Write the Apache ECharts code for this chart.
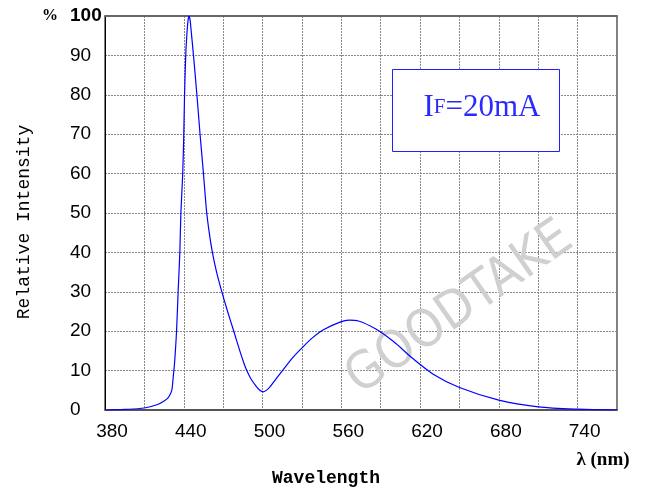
<!DOCTYPE html>
<html>
<head>
<meta charset="utf-8">
<script src="https://cdn.jsdelivr.net/npm/echarts@6/dist/echarts.min.js"></script>
<style>
  html, body { margin: 0; padding: 0; background: #fff; }
  #chart { width: 645px; height: 493px; }
</style>
</head>
<body>
<div id="chart"></div>
<script>
// wavelength (nm) and relative intensity (%)
const wavelengths = [380, 395, 410, 420, 425, 428, 430, 431, 432, 433, 434.5, 435.7, 437, 437.8, 439.2, 440, 440.6, 441.5, 442.5, 443.3, 444, 444.8, 445.7, 447.4, 450, 452.4, 455, 456.2, 457.5, 459.4, 461.8, 465, 469, 473.4, 478.1, 482.7, 485.7, 488, 491, 495.2, 497.9, 500.5, 505, 510, 515.6, 523, 531, 538, 546, 559, 566, 573, 586, 600, 614, 630, 650, 680, 710, 740, 770];
const intensity = [0, 0.15, 0.5, 1.4, 2.3, 3.1, 4.2, 5.2, 8.5, 12, 20, 30, 40, 50, 60, 70, 80, 90, 96, 99, 100, 99, 96, 90, 80, 70, 60, 55, 50, 45, 40, 35, 30, 25, 20, 15, 12, 10, 8, 6, 5, 4.6, 5.6, 7.8, 10.2, 13.3, 16.1, 18.3, 20.3, 22.3, 22.8, 22.6, 20.6, 17.3, 13.2, 9.1, 5.7, 2.5, 0.8, 0.2, 0];
const xTickLabels = [380, 440, 500, 560, 620, 680, 740];

const chart = echarts.init(document.getElementById('chart'));

const option = {
  backgroundColor: '#fff',
  animation: false,
  grid: {
    left: 105,
    top: 16,
    width: 512,
    height: 394,
    show: true,
    borderColor: '#000',
    borderWidth: 1
  },
  xAxis: [{
    type: 'value',
    min: 380,
    max: 770,
    interval: 30,
    axisLine: { show: true, lineStyle: { color: '#555', width: 2 } },
    axisTick: { show: false },
    axisLabel: {
      color: '#000',
      fontFamily: 'Liberation Sans',
      fontSize: 19,
      margin: 12,
      padding: [0, 0, 0, 14],
      formatter: (v) => (xTickLabels.indexOf(v) >= 0 ? String(v) : '')
    },
    splitLine: { show: true, lineStyle: { color: '#888', type: [2, 1], width: 1 } }
  }, {
    type: 'value',
    position: 'top',
    min: 380,
    max: 770,
    axisLine: { show: true, onZero: false, lineStyle: { color: '#666', width: 2 } },
    axisTick: { show: false },
    axisLabel: { show: false },
    splitLine: { show: false }
  }],
  yAxis: {
    type: 'value',
    min: 0,
    max: 100,
    interval: 10,
    axisLine: { show: true, lineStyle: { color: '#000', width: 1 } },
    axisTick: { show: false },
    axisLabel: {
      color: '#000',
      fontFamily: 'Liberation Sans',
      fontSize: 19,
      align: 'left',
      margin: 35,
      formatter: (v) => (v === 100 ? '{b|100}' : String(v)),
      rich: {
        b: { fontFamily: 'Liberation Sans', fontWeight: 'bold', fontSize: 19, color: '#000' }
      }
    },
    splitLine: { show: true, lineStyle: { color: '#888', type: [2, 1], width: 1 } }
  },
  series: [{
    type: 'line',
    data: wavelengths.map((w, i) => [w, intensity[i]]),
    showSymbol: false,
    smooth: 0.3,
    lineStyle: { color: '#0000ff', width: 1.2 },
    z: 5
  }],
  graphic: [
    {
      type: 'text',
      left: 42,
      top: 8,
      style: { text: '%', font: 'bold 16px "Liberation Serif"', fill: '#000' }
    },
    {
      type: 'text',
      x: 24,
      y: 222,
      rotation: Math.PI / 2,
      style: {
        text: 'Relative Intensity',
        font: '18px "Liberation Mono"',
        fill: '#000',
        align: 'center',
        verticalAlign: 'middle'
      }
    },
    {
      type: 'text',
      x: 326,
      y: 478,
      style: {
        text: 'Wavelength',
        font: 'bold 18px "Liberation Mono"',
        fill: '#000',
        align: 'center',
        verticalAlign: 'middle'
      }
    },
    {
      type: 'text',
      x: 603,
      y: 460,
      style: {
        text: 'λ (nm)',
        font: 'bold 19px "Liberation Serif"',
        fill: '#000',
        align: 'center',
        verticalAlign: 'middle'
      }
    },
    {
      type: 'text',
      x: 460,
      y: 309,
      rotation: 0.61,
      z: 1,
      style: {
        text: 'GOODTAKE',
        font: '52px "Liberation Sans Narrow", "DejaVu Sans Condensed", sans-serif',
        fill: '#d0d0d0',
        align: 'center',
        verticalAlign: 'middle'
      }
    },
    {
      type: 'rect',
      shape: { x: 392.5, y: 69.5, width: 167, height: 82 },
      style: { fill: '#fff', stroke: '#1f1fff', lineWidth: 1 },
      z: 10
    },
    {
      type: 'text',
      x: 482,
      y: 123,
      z: 11,
      style: {
        rich: {
          big: { fontFamily: 'Liberation Serif', fontSize: 31, fill: '#2a2aff' },
          sm: { fontFamily: 'Liberation Serif', fontSize: 21, fill: '#2a2aff' }
        },
        text: '{big|I}{sm|F}{big|=20mA}',
        align: 'center',
        verticalAlign: 'bottom'
      }
    }
  ]
};

chart.setOption(option);
</script>
</body>
</html>
